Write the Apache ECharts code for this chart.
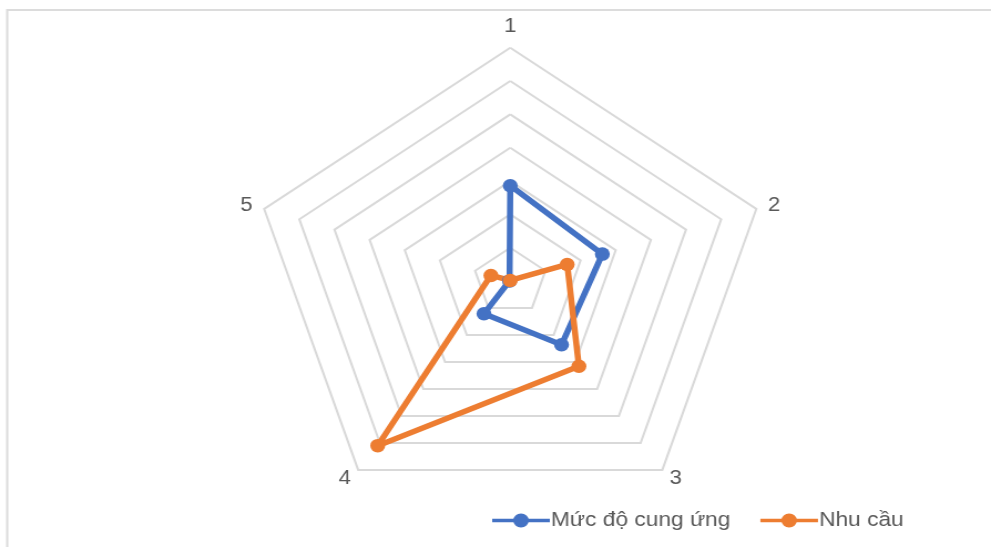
<!DOCTYPE html>
<html>
<head>
<meta charset="utf-8">
<script src="https://cdn.jsdelivr.net/npm/echarts@6/dist/echarts.min.js"></script>
<style>
  html, body { margin: 0; padding: 0; background: #fff; overflow: hidden; }
  #wrap { width: 991px; height: 547px; overflow: hidden; position: relative; }
  #chart { width: 894px; height: 547px; transform: scaleX(1.1085); transform-origin: 0 0; }
</style>
</head>
<body>
<div id="wrap"><div id="chart"></div></div>
<script>
// Axis categories (clockwise from top, as in the reference)
const categories = ['1', '2', '3', '4', '5'];
// Series values (scale 0..7)
const supplyName = 'Mức độ cung ứng';
const supplyValues = [2.86, 2.62, 2.36, 1.21, 0.02];
const demandName = 'Nhu cầu';
const demandValues = [0.02, 1.62, 3.16, 6.10, 0.55];
const axisMax = 7;
const ringCount = 7;

// ECharts radar runs counter-clockwise; reorder so axes go clockwise like the reference
const order = [0, 4, 3, 2, 1];
const reorder = arr => order.map(i => arr[i]);

const chart = echarts.init(document.getElementById('chart'), null, { renderer: 'canvas' });
const iconPath = 'path://M0,5.3L52,5.3L52,8.7L0,8.7Z M19,7A7,7 0 1,1 33,7A7,7 0 1,1 19,7Z';

chart.setOption({
  animation: false,
  backgroundColor: '#ffffff',
  graphic: [{
    type: 'rect',
    shape: { x: 6.5, y: 10, width: 2000, height: 2000 },
    style: { fill: 'none', stroke: '#dcdcdc', lineWidth: 2 },
    silent: true
  }],
  legend: {
    left: 439,
    top: 505,
    itemWidth: 52,
    itemHeight: 14,
    itemGap: 27,
    textStyle: { color: '#595959', fontSize: 20.5, fontFamily: 'Liberation Sans', padding: [0, 0, 0, -4] },
    data: [
      { name: supplyName, icon: iconPath },
      { name: demandName, icon: iconPath }
    ]
  },
  radar: {
    center: [460.3, 281.1],
    radius: 233.4,
    startAngle: 90,
    splitNumber: ringCount,
    shape: 'polygon',
    nameGap: 11,
    indicator: reorder(categories).map(n => ({ name: n, min: 0, max: axisMax })),
    axisName: { color: '#595959', fontSize: 20, fontFamily: 'Liberation Sans' },
    splitLine: { lineStyle: { color: '#d9d9d9', width: 2 } },
    splitArea: { show: false },
    axisLine: { show: false },
    axisTick: { show: false },
    axisLabel: { show: false }
  },
  series: [{
    type: 'radar',
    symbol: 'circle',
    symbolSize: 13.5,
    data: [
      {
        name: supplyName,
        value: reorder(supplyValues),
        itemStyle: { color: '#4472C4' },
        lineStyle: { color: '#4472C4', width: 5.5 }
      },
      {
        name: demandName,
        value: reorder(demandValues),
        itemStyle: { color: '#ED7D31' },
        lineStyle: { color: '#ED7D31', width: 5.5 }
      }
    ]
  }]
});
</script>
</body>
</html>
